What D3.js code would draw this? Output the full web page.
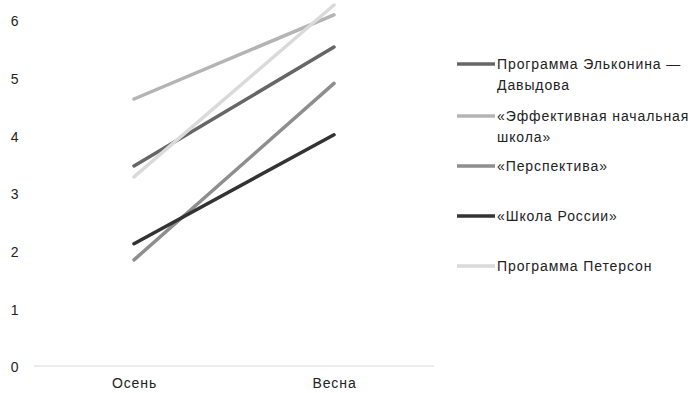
<!DOCTYPE html>
<html>
<head>
<meta charset="utf-8">
<script src="https://cdn.jsdelivr.net/npm/d3@7"></script>
<style>
  html, body { margin: 0; padding: 0; background: #fff; }
  svg { display: block; font-family: "Liberation Sans", Arial, sans-serif; }
</style>
</head>
<body>
<svg id="chart" width="696" height="393"></svg>
<script>
// Periods on the x axis
const periods = ["Осень", "Весна"];

// Programme names (legend lines, split where they wrap)
const programmes = [
  ["Программа Эльконина —", "Давыдова"],
  ["«Эффективная начальная", "школа»"],
  ["«Перспектива»"],
  ["«Школа России»"],
  ["Программа Петерсон"]
];

// Scores for each programme: autumn, spring
const elkoninDavydov = [3.47, 5.53];
const effectiveSchool = [4.63, 6.09];
const perspective = [1.84, 4.90];
const schoolOfRussia = [2.12, 4.01];
const peterson = [3.28, 6.26];

const yTicks = [0, 1, 2, 3, 4, 5, 6];

const seriesValues = [elkoninDavydov, effectiveSchool, perspective, schoolOfRussia, peterson];
const colors = ["#666666", "#b4b4b4", "#8e8e8e", "#333333", "#dadada"];

const svg = d3.select("#chart");

const x = d3.scalePoint().domain(periods).range([34, 434]).padding(0.5);
const y = d3.scaleLinear().domain([0, 6]).range([366, 20]);

// Horizontal baseline at zero
svg.append("line")
  .attr("x1", 34).attr("x2", 434)
  .attr("y1", y(0)).attr("y2", y(0))
  .attr("stroke", "#d9d9d9").attr("stroke-width", 1);

// Y axis labels
const yAxis = d3.axisLeft(y).tickValues(yTicks).tickSize(0).tickPadding(0).tickFormat(d3.format("d"));
const gy = svg.append("g").attr("transform", "translate(18.5,1.5)").call(yAxis);
gy.select(".domain").remove();
gy.selectAll("text").attr("font-size", 14).attr("fill", "#222")
  .attr("font-family", "Liberation Sans, Arial, sans-serif");

// X axis labels
const xAxis = d3.axisBottom(x).tickSize(0).tickPadding(0);
const gx = svg.append("g").attr("transform", "translate(0,378)").call(xAxis);
gx.select(".domain").remove();
gx.selectAll("text").attr("font-size", 14).attr("fill", "#222")
  .attr("letter-spacing", 0.9)
  .attr("font-family", "Liberation Sans, Arial, sans-serif");

// Series lines
const line = d3.line().x((d, i) => x(periods[i])).y(d => y(d));
svg.append("g").selectAll("path")
  .data(seriesValues)
  .join("path")
  .attr("d", d => line(d))
  .attr("fill", "none")
  .attr("stroke", (d, i) => colors[i])
  .attr("stroke-width", 3.5)
  .attr("stroke-linecap", "round");

// Legend
const legendRowsY = [64, 116, 166, 216, 266];
const legend = svg.append("g");
programmes.forEach((name, i) => {
  const g = legend.append("g").attr("transform", `translate(0,${legendRowsY[i]})`);
  g.append("line")
    .attr("x1", 457).attr("x2", 495)
    .attr("y1", 0).attr("y2", 0)
    .attr("stroke", colors[i]).attr("stroke-width", 3.5);
  const t = g.append("text")
    .attr("x", 497).attr("y", 0)
    .attr("font-size", 14).attr("fill", "#222")
    .attr("letter-spacing", 0.9)
    .attr("dominant-baseline", "central");
  name.forEach((part, j) => {
    t.append("tspan").attr("x", 497).attr("dy", j === 0 ? 0 : 21).text(part);
  });
});
</script>
</body>
</html>
